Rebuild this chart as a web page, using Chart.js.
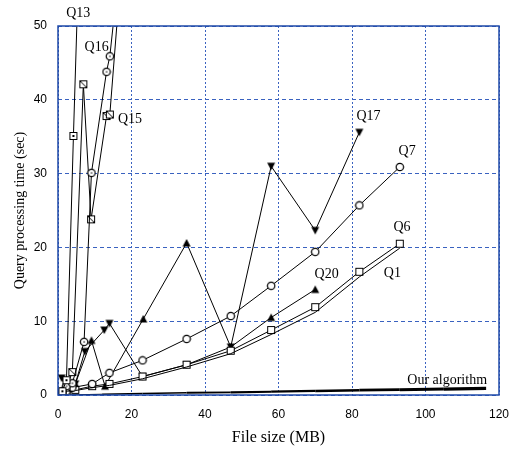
<!DOCTYPE html>
<html>
<head>
<meta charset="utf-8">
<script src="https://cdn.jsdelivr.net/npm/chart.js@4.4.1/dist/chart.umd.min.js"></script>
<style>html,body{margin:0;padding:0;background:#fff}</style>
</head>
<body>
<canvas id="myChart" width="510" height="453"></canvas>
<script>
// Datos (tamaño de fichero en MB, tiempo en segundos)
var sizeQ13 = [1.2, 2.3, 4.2, 5.8];
var timeQ13 = [0.5, 2.0, 35.1, 61];

var sizeQ16 = [1.2, 2.3, 3.9, 7.1, 9.1, 13.2, 14.1, 16.5];
var timeQ16 = [0.5, 1.2, 1.6, 7.2, 30.1, 43.8, 45.9, 57];

var sizeQ15 = [1.2, 2.3, 3.9, 6.9, 9.0, 13.2, 14.1, 17.5];
var timeQ15 = [0.4, 1.0, 3.1, 42.1, 23.8, 37.8, 38.0, 59.5];

var sizeQ17 = [1.0, 2.3, 4.7, 7.3, 12.6, 14, 23, 35, 47, 58, 70, 82];
var timeQ17 = [2.3, 0.8, 1.5, 5.9, 8.8, 9.7, 2.5, 4.1, 6.5, 31, 22.3, 35.6];

var sizeQ20 = [1.2, 2.3, 4.7, 9.1, 12.8, 23.2, 35, 47, 58, 70];
var timeQ20 = [0.3, 0.6, 1.5, 7.4, 1.2, 10.3, 20.6, 6.5, 10.5, 14.3];

var sizeQ7 = [1.2, 2.3, 3.9, 9.3, 14, 23, 35, 47, 58, 70, 82, 93];
var timeQ7 = [0.3, 0.5, 1.0, 1.5, 3.0, 4.7, 7.6, 10.7, 14.8, 19.4, 25.7, 30.9];

var sizeQ6 = [1.2, 2.3, 4.7, 9.3, 14, 23, 35, 47, 58, 70, 82, 93];
var timeQ6 = [0.2, 0.4, 0.7, 1.2, 1.5, 2.5, 4.1, 6.0, 8.8, 11.9, 16.7, 20.5];

var sizeQ1 = [1.2, 2.3, 4.7, 9.3, 14, 23, 35, 47, 58, 70, 82, 93];
var timeQ1 = [0.1, 0.3, 0.6, 1.0, 1.3, 2.2, 3.8, 5.6, 8.2, 11.2, 16.0, 19.9];

var sizeOurs = [0.5, 12, 23, 35, 47, 58, 70, 82, 93, 105, 116.5];
var timeOurs = [0, 0.1, 0.2, 0.3, 0.35, 0.45, 0.55, 0.65, 0.72, 0.8, 0.9];

// Etiquetas de las curvas (texto y punto de anclaje en unidades de datos)
var labelTexts = ['Q13', 'Q16', 'Q15', 'Q17', 'Q7', 'Q6', 'Q20', 'Q1', 'Our algorithm'];
var labelX = [5.5, 10.5, 19.6, 84.5, 95, 93.6, 73.1, 91.0, 105.9];
var labelY = [51.7, 47.1, 37.4, 37.8, 33.0, 22.7, 16.4, 16.5, 2.0];

var xTicks = [0, 20, 40, 60, 80, 100, 120];
var yTicks = [0, 10, 20, 30, 40, 50];

function puntos(xs, ys) {
    return xs.map(function(x, i) { return {x: x, y: ys[i]}; });
}

// Marcadores dibujados a mano
function marcador(tipo) {
    var c = document.createElement('canvas');
    c.width = 10; c.height = 10;
    var g = c.getContext('2d');
    g.strokeStyle = '#000';
    g.fillStyle = '#fff';
    g.lineWidth = 1;
    if (tipo === 'cuadro' || tipo === 'cuadroPunto' || tipo === 'cuadroDiag') {
        g.fillRect(1, 1, 8, 8);
        g.strokeRect(1.5, 1.5, 7, 7);
        if (tipo === 'cuadroPunto') {
            g.fillStyle = '#000';
            g.fillRect(4, 4, 2, 2);
        }
        if (tipo === 'cuadroDiag') {
            g.beginPath(); g.moveTo(2, 2); g.lineTo(8, 8); g.stroke();
        }
    } else if (tipo === 'circulo' || tipo === 'circuloPunto') {
        g.lineWidth = 1.2;
        g.beginPath(); g.arc(5, 5, 3.7, 0, Math.PI * 2); g.fill(); g.stroke();
        if (tipo === 'circuloPunto') {
            g.fillStyle = '#000';
            g.fillRect(4.4, 4.4, 1.3, 1.3);
        }
    } else if (tipo === 'trianguloAbajo') {
        g.fillStyle = '#000';
        g.beginPath(); g.moveTo(1, 1.5); g.lineTo(9, 1.5); g.lineTo(5, 9); g.closePath(); g.fill();
    } else if (tipo === 'trianguloArriba') {
        g.fillStyle = '#000';
        g.beginPath(); g.moveTo(1, 8.5); g.lineTo(9, 8.5); g.lineTo(5, 1); g.closePath(); g.fill();
    }
    return c;
}

function serie(nombre, xs, ys, tipo) {
    return {
        label: nombre,
        data: puntos(xs, ys),
        borderColor: '#000',
        borderWidth: 1,
        pointStyle: tipo ? marcador(tipo) : false,
        pointRadius: tipo ? 4 : 0,
        tension: 0,
        fill: false
    };
}

var marcoYEtiquetas = {
    id: 'marcoYEtiquetas',
    afterDraw: function(chart) {
        var c = chart.ctx, a = chart.chartArea;
        var sx = chart.scales.x, sy = chart.scales.y;
        c.save();
        c.strokeStyle = '#1f4aa8';
        c.lineWidth = 1.5;
        c.strokeRect(a.left, a.top, a.right - a.left, a.bottom - a.top);
        c.fillStyle = '#000';
        c.font = '14px "Liberation Serif"';
        c.textAlign = 'center';
        c.textBaseline = 'middle';
        labelTexts.forEach(function(t, i) {
            c.fillText(t, sx.getPixelForValue(labelX[i]), sy.getPixelForValue(labelY[i]));
        });
        c.restore();
    }
};

var ctx = document.getElementById('myChart').getContext('2d');
var myChart = new Chart(ctx, {
    type: 'line',
    data: {
        datasets: [
            serie('Q13', sizeQ13, timeQ13, 'cuadroPunto'),
            serie('Q16', sizeQ16, timeQ16, 'circuloPunto'),
            serie('Q15', sizeQ15, timeQ15, 'cuadroDiag'),
            serie('Q7', sizeQ7, timeQ7, 'circulo'),
            serie('Q1', sizeQ1, timeQ1, null),
            serie('Q6', sizeQ6, timeQ6, 'cuadro'),
            serie('Q17', sizeQ17, timeQ17, 'trianguloAbajo'),
            serie('Q20', sizeQ20, timeQ20, 'trianguloArriba'),
            {
                label: 'Our algorithm',
                data: puntos(sizeOurs, timeOurs),
                borderColor: '#000',
                borderWidth: 3,
                // la linea se engruesa hacia la derecha, como en la figura
                segment: {
                    borderWidth: function(s) { return 1 + 2.2 * s.p1DataIndex / (sizeOurs.length - 1); }
                },
                pointRadius: 0,
                fill: false
            }
        ]
    },
    options: {
        responsive: false,
        animation: false,
        layout: { padding: { left: 0, right: 11, top: 26, bottom: 0 } },
        plugins: {
            legend: { display: false },
            tooltip: { enabled: false }
        },
        scales: {
            x: {
                type: 'linear',
                min: 0,
                max: 120,
                afterFit: function(s) { s.height = 58; s.paddingLeft = 0; s.paddingRight = 0; },
                afterBuildTicks: function(s) { s.ticks = xTicks.map(function(v) { return {value: v}; }); },
                ticks: {
                    color: '#000',
                    padding: 12,
                    font: { family: 'Liberation Sans', size: 12 }
                },
                grid: { color: '#3a62c0', lineWidth: 1, drawTicks: false },
                border: { display: false, dash: [2, 2] },
                title: {
                    display: true,
                    text: 'File size (MB)',
                    color: '#000',
                    font: { family: 'Liberation Serif', size: 16 },
                    padding: { top: 0, bottom: 6 }
                }
            },
            y: {
                type: 'linear',
                min: 0,
                max: 50,
                afterFit: function(s) { s.width = 58; s.paddingTop = 0; s.paddingBottom = 0; },
                afterBuildTicks: function(s) { s.ticks = yTicks.map(function(v) { return {value: v}; }); },
                ticks: {
                    color: '#000',
                    padding: 11,
                    font: { family: 'Liberation Sans', size: 12 }
                },
                grid: { color: '#3a62c0', lineWidth: 1, drawTicks: false },
                border: { display: false, dash: [4, 3] },
                title: {
                    display: true,
                    text: 'Query processing time (sec)',
                    color: '#000',
                    font: { family: 'Liberation Serif', size: 14 },
                    padding: { top: 12, bottom: 0 }
                }
            }
        }
    },
    plugins: [marcoYEtiquetas]
});
</script>
</body>
</html>
